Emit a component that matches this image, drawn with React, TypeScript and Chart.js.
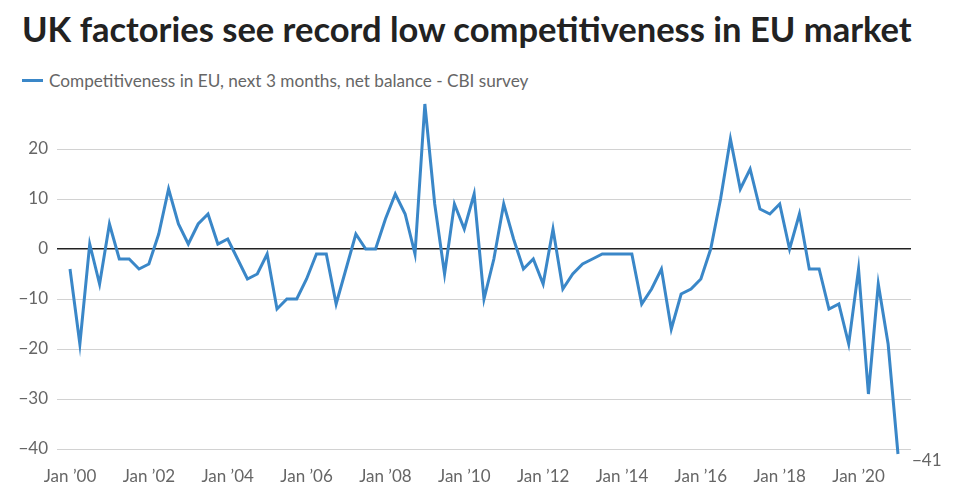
import React, { useEffect, useRef } from "react";
import { Chart, registerables } from "chart.js";

Chart.register(...registerables);

const TITLE = "UK factories see record low competitiveness in EU market";
const SERIES_LABEL = "Competitiveness in EU, next 3 months, net balance - CBI survey";

// Quarterly CBI survey, Jan 2000 .. Jan 2021 (index 0 = Jan 2000)
const values: number[] = [
  -4, -19, 1, -7, 5, -2, -2, -4, -3, 3,
  12, 5, 1, 5, 7, 1, 2, -2, -6, -5,
  -1, -12, -10, -10, -6, -1, -1, -11, -4, 3,
  0, 0, 6, 11, 7, -1, 29, 9, -5, 9,
  4, 11, -10, -2, 9, 2, -4, -2, -7, 4,
  -8, -5, -3, -2, -1, -1, -1, -1, -11, -8,
  -4, -16, -9, -8, -6, 0, 10, 22, 12, 16,
  8, 7, 9, 0, 7, -4, -4, -12, -11, -19,
  -4, -29, -7, -19, -41,
];

const tickQuarterIndex: number[] = [0, 8, 16, 24, 32, 40, 48, 56, 64, 72, 80];
const tickLabels: string[] = [
  "Jan \u201900", "Jan \u201902", "Jan \u201904", "Jan \u201906", "Jan \u201908",
  "Jan \u201910", "Jan \u201912", "Jan \u201914", "Jan \u201916", "Jan \u201918", "Jan \u201920",
];
const yTicks: number[] = [-40, -30, -20, -10, 0, 10, 20];

const LINE_COLOR = "#3a87c8";
const TEXT_GRAY = "#666666";
const FONT = "Lato";

export default function App() {
  const canvasRef = useRef<HTMLCanvasElement | null>(null);

  useEffect(() => {
    if (!canvasRef.current) return;
    const endLabel = {
      id: "endLabel",
      afterDatasetsDraw(chart: any) {
        const meta = chart.getDatasetMeta(0);
        const pt = meta.data[meta.data.length - 1];
        if (!pt) return;
        const ctx = chart.ctx;
        ctx.save();
        ctx.font = `17px ${FONT}`;
        ctx.fillStyle = TEXT_GRAY;
        ctx.textAlign = "left";
        ctx.textBaseline = "middle";
        const v = values[values.length - 1];
        ctx.fillText((v < 0 ? "\u2212" : "") + Math.abs(v), pt.x + 14, pt.y + 7);
        ctx.restore();
      },
    };

    const chart = new Chart(canvasRef.current, {
      type: "line",
      data: {
        datasets: [
          {
            label: SERIES_LABEL,
            data: values.map((v, i) => ({ x: i, y: v })),
            borderColor: LINE_COLOR,
            backgroundColor: LINE_COLOR,
            borderWidth: 3,
            pointRadius: 0,
            tension: 0,
            fill: false,
          },
        ],
      },
      options: {
        responsive: false,
        animation: false,
        devicePixelRatio: 1,
        layout: { padding: { left: 0, right: 49, top: 99, bottom: 0 } },
        plugins: {
          legend: { display: false },
          tooltip: { enabled: false },
          title: { display: false },
        },
        scales: {
          x: {
            type: "linear",
            min: -1.32,
            max: 85.32,
            grid: { display: false, drawTicks: false },
            border: { display: false },
            afterBuildTicks: (scale: any) => {
              scale.ticks = tickQuarterIndex.map((v) => ({ value: v }));
            },
            afterFit: (scale: any) => {
              scale.height = 41;
            },
            ticks: {
              autoSkip: false,
              maxRotation: 0,
              padding: 7,
              color: TEXT_GRAY,
              font: { family: FONT, size: 17 },
              callback: (v: any) => {
                const k = tickQuarterIndex.indexOf(Number(v));
                return k >= 0 ? tickLabels[k] : "";
              },
            },
          },
          y: {
            type: "linear",
            min: -42,
            max: 30,
            border: { display: false },
            grid: {
              drawTicks: false,
              lineWidth: (ctx: any) => (ctx.tick && ctx.tick.value === 0 ? 1.5 : 1),
              color: (ctx: any) => (ctx.tick && ctx.tick.value === 0 ? "#222222" : "#d2d2d2"),
            },
            afterBuildTicks: (scale: any) => {
              scale.ticks = yTicks.map((v) => ({ value: v }));
            },
            afterFit: (scale: any) => {
              scale.width = 57;
            },
            ticks: {
              padding: 9,
              color: TEXT_GRAY,
              font: { family: FONT, size: 17 },
              callback: (v: any) => {
                const n = Number(v);
                return (n < 0 ? "\u2212" : "") + Math.abs(n);
              },
            },
          },
        },
      },
      plugins: [endLabel],
    } as any);
    return () => chart.destroy();
  }, []);

  return (
    <div
      style={{
        position: "fixed",
        left: 0,
        top: 0,
        width: 960,
        height: 500,
        background: "#ffffff",
        overflow: "hidden",
      }}
    >
      <div
        style={{
          position: "absolute",
          left: 22,
          top: 8,
          fontFamily: FONT,
          fontWeight: 700,
          fontSize: 34.5,
          color: "#222222",
          whiteSpace: "nowrap",
          lineHeight: "42px",
        }}
      >
        {TITLE}
      </div>
      <div
        style={{
          position: "absolute",
          left: 22,
          top: 68.5,
          display: "flex",
          alignItems: "center",
          fontFamily: FONT,
          fontSize: 17.2,
          color: TEXT_GRAY,
          whiteSpace: "nowrap",
          lineHeight: "24px",
        }}
      >
        <span
          style={{
            display: "inline-block",
            width: 21,
            height: 3,
            background: LINE_COLOR,
            marginRight: 6,
          }}
        />
        <span>{SERIES_LABEL}</span>
      </div>
      <canvas
        ref={canvasRef}
        width={960}
        height={500}
        style={{ position: "absolute", left: 0, top: 0, width: 960, height: 500 }}
      />
    </div>
  );
}
